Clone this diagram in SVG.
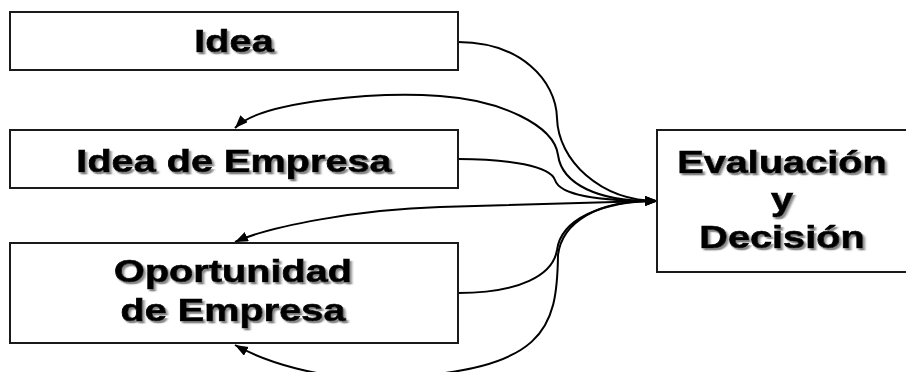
<svg xmlns="http://www.w3.org/2000/svg" width="906" height="372" viewBox="0 0 906 372">
<defs>
<style>
.box{fill:#fff;stroke:#1a1a1a;stroke-width:2}
.t{font-family:"Liberation Sans",Arial,sans-serif;font-weight:bold;font-size:32px;fill:#000;stroke:#000;stroke-width:0.7px;text-anchor:middle;filter:url(#sh)}
.c{fill:none;stroke:#000;stroke-width:2}
.in{marker-end:url(#ah)}
</style>
<filter id="sh" x="-10%" y="-20%" width="130%" height="150%">
<feDropShadow dx="1.8" dy="2.2" stdDeviation="0.7" flood-color="#7a7a7a" flood-opacity="0.9"/>
</filter>
<marker id="ah" markerUnits="userSpaceOnUse" markerWidth="14" markerHeight="11" refX="13" refY="5" orient="auto">
<path d="M0,0 L13,5 L0,10 z" fill="#000"/>
</marker>
</defs>
<rect width="906" height="372" fill="#fff"/>
<g id="connectors">
<path class="c in" d="M458,42 C520,42 556,80 557,118 C558,160 600,201 658,201"/>
<path class="c in" d="M458,159 C510,159 550,166 555,180 C560,196 600,201 658,201"/>
<path class="c in" d="M458,293 C520,293 553,275 557,250 C561,220 600,201 658,201"/>
<path class="c in" d="M650,201 C600,201 562,185 558,155 C554,125 500,100 440,96 C380,92 262,100 235,128"/>
<path class="c in" d="M650,201 L440,207 C360,209.3 270,226 235,242"/>
<path class="c in" d="M650,201 C598,201 562,222 558,255 C557,330 545,370 390,378 C320,381.6 262,360 235,345"/>
</g>
<g id="n-idea">
<rect class="box" x="10" y="12" width="448" height="58"/>
<text class="t" transform="translate(234,52) scale(1.24,1)">Idea</text>
</g>
<g id="n-idea-empresa">
<rect class="box" x="10" y="130" width="448" height="58"/>
<text class="t" transform="translate(234,172) scale(1.24,1)">Idea de Empresa</text>
</g>
<g id="n-oportunidad">
<rect class="box" x="10" y="243" width="448" height="100"/>
<text class="t" transform="translate(233,281.5) scale(1.24,1)">Oportunidad</text>
<text class="t" transform="translate(233,321) scale(1.24,1)">de Empresa</text>
</g>
<g id="n-evaluacion">
<rect class="box" x="657" y="130" width="260" height="142"/>
<text class="t" transform="translate(782,173) scale(1.24,1)">Evaluación</text>
<text class="t" transform="translate(782,210) scale(1.24,1)">y</text>
<text class="t" transform="translate(782,248) scale(1.24,1)">Decisión</text>
</g>
</svg>
